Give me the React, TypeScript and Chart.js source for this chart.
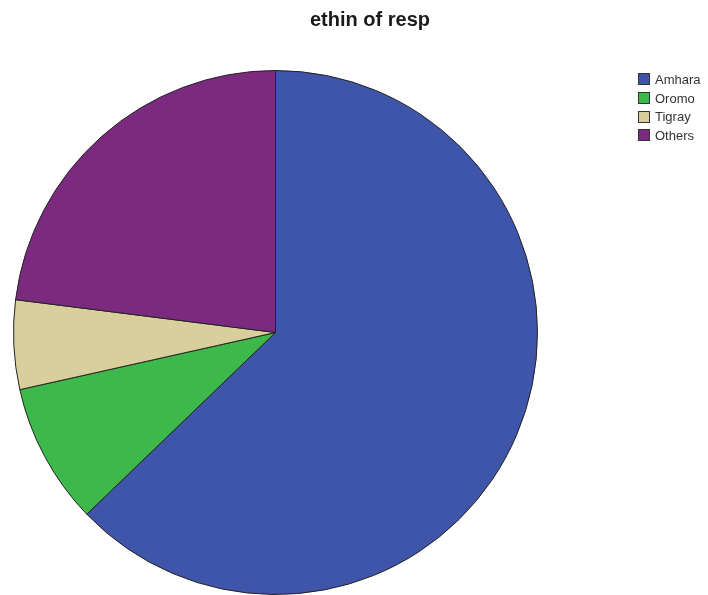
import React, { useEffect, useRef } from "react";
import { Chart, registerables } from "chart.js";

Chart.register(...registerables);

const title = "ethin of resp";
const categories = ["Amhara", "Oromo", "Tigray", "Others"];
const values = [62.8, 8.7, 5.5, 23.0];
const colors = ["#3F55AA", "#3DB84A", "#D9CF9C", "#7C2A80"];

export default function App() {
  const ref = useRef<HTMLCanvasElement | null>(null);
  useEffect(() => {
    document.body.style.margin = "0";
    const chart = new Chart(ref.current!, {
      type: "pie",
      data: {
        labels: categories,
        datasets: [
          {
            data: values,
            backgroundColor: colors,
            borderColor: "#222222",
            borderWidth: 1,
          },
        ],
      },
      options: {
        animation: false,
        responsive: false,
        layout: { padding: { left: 13, right: 170, top: 70, bottom: 0 } },
        plugins: {
          legend: { display: false },
          title: { display: false },
          tooltip: { enabled: false },
        },
      },
    });
    return () => chart.destroy();
  }, []);

  return (
    <div style={{ position: "absolute", left: 0, top: 0, width: 708, height: 595, background: "#fff", overflow: "hidden" }}>
      <canvas ref={ref} width={708} height={595} style={{ position: "absolute", left: 0, top: 0 }} />
      <div
        style={{
          position: "absolute",
          left: 270,
          width: 200,
          top: 8,
          textAlign: "center",
          fontFamily: "'Liberation Sans', Arial, sans-serif",
          fontWeight: "bold",
          fontSize: 20,
          lineHeight: "23px",
          color: "#1a1a1a",
        }}
      >
        {title}
      </div>
      <div style={{ position: "absolute", left: 638, top: 70, fontFamily: "'Liberation Sans', Arial, sans-serif", fontSize: 13, color: "#333" }}>
        {categories.map((c, i) => (
          <div key={c} style={{ display: "flex", alignItems: "center", height: 18.7 }}>
            <span style={{ display: "inline-block", boxSizing: "border-box", width: 12, height: 12, background: colors[i], border: "1px solid #333", marginRight: 5 }} />
            <span>{c}</span>
          </div>
        ))}
      </div>
    </div>
  );
}
